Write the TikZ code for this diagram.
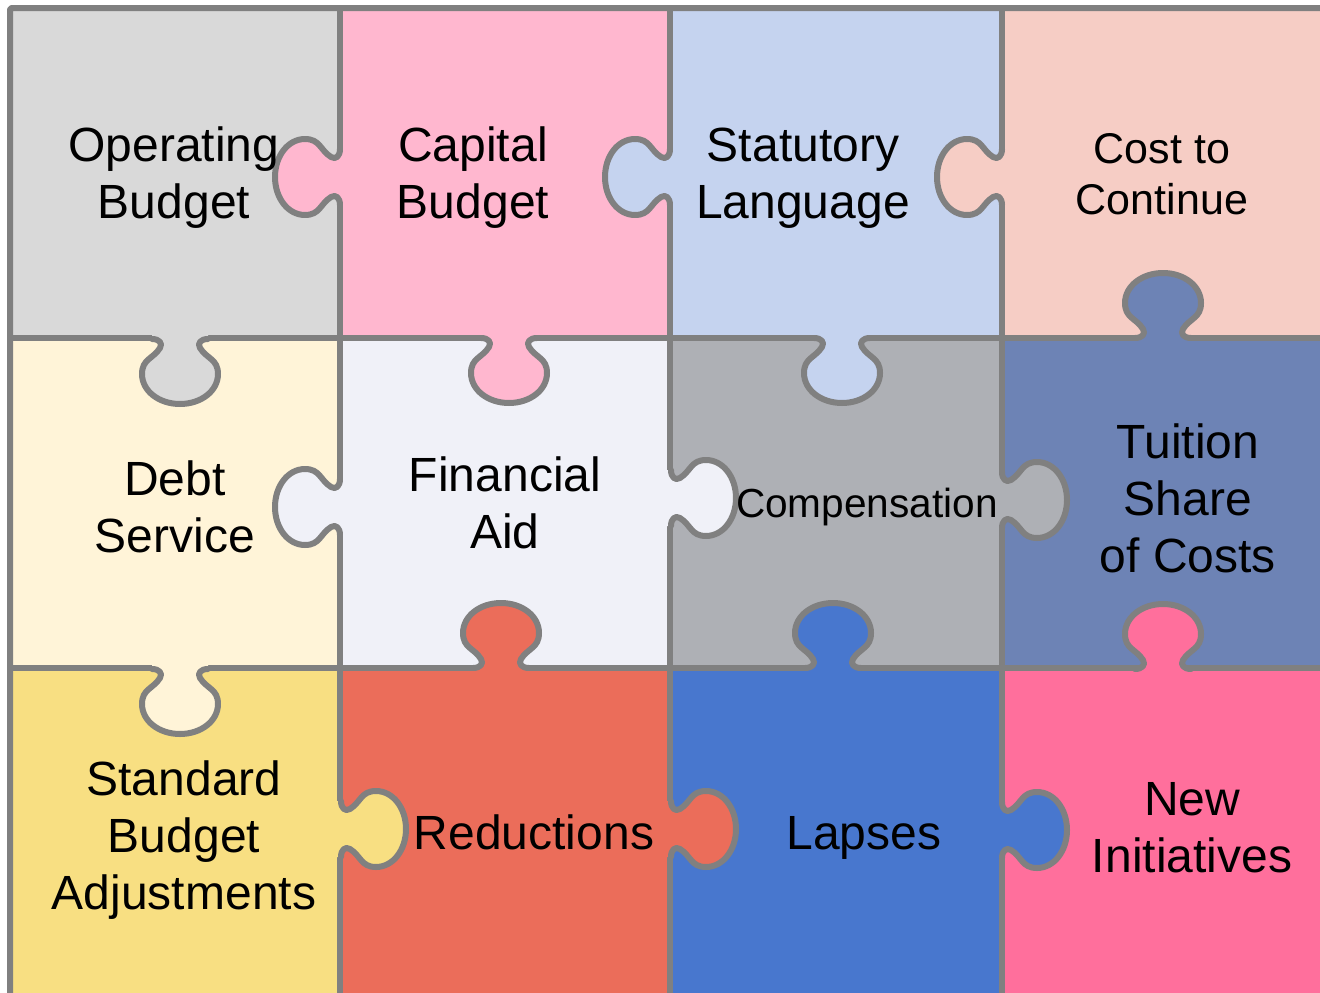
\documentclass[tikz,border=0pt]{standalone}
\usepackage{fontspec}
\setmainfont{Liberation Sans}
\definecolor{seamgray}{HTML}{808080}
\definecolor{opcol}{HTML}{D9D9D9}
\definecolor{capcol}{HTML}{FFB7CF}
\definecolor{statcol}{HTML}{C5D3EF}
\definecolor{costcol}{HTML}{F6CDC5}
\definecolor{debtcol}{HTML}{FFF4D8}
\definecolor{fincol}{HTML}{F0F1F8}
\definecolor{compcol}{HTML}{AEB0B5}
\definecolor{tuitcol}{HTML}{6D83B5}
\definecolor{stdcol}{HTML}{F8DF82}
\definecolor{redcol}{HTML}{EB6D5A}
\definecolor{lapcol}{HTML}{4877CE}
\definecolor{newcol}{HTML}{FF6F9C}

\tikzset{
  seam/.style={draw=seamgray,line width=6pt,line cap=round,line join=round},
  lbl/.style={font=\fontsize{48}{57}\selectfont,align=center,inner sep=0pt},
  pics/tab/.style={code={
    \fill[#1] (-28,-4) -- (-28,0) .. controls (-21,0) and (-17,4) .. (-20,9)
      .. controls (-27,20) and (-38,20) .. (-38,35)
      .. controls (-38,52) and (-21,65) .. (0,65)
      .. controls (21,65) and (38,52) .. (38,35)
      .. controls (38,20) and (27,20) .. (20,9)
      .. controls (17,4) and (21,0) .. (28,0) -- (28,-4) -- cycle;
    \draw[seam] (-28,0) .. controls (-21,0) and (-17,4) .. (-20,9)
      .. controls (-27,20) and (-38,20) .. (-38,35)
      .. controls (-38,52) and (-21,65) .. (0,65)
      .. controls (21,65) and (38,52) .. (38,35)
      .. controls (38,20) and (27,20) .. (20,9)
      .. controls (17,4) and (21,0) .. (28,0);
  }}
}

\begin{document}
\begin{tikzpicture}[x=1pt,y=-1pt]
\useasboundingbox (0,0) rectangle (1320,993);
\clip (0,0) rectangle (1320,993);

% pieces
\fill[opcol]   (10,8)    rectangle (340,338);
\fill[capcol]  (340,8)   rectangle (670,338);
\fill[statcol] (670,8)   rectangle (1002,338);
\fill[costcol] (1002,8)  rectangle (1334,338);
\fill[debtcol] (10,338)  rectangle (340,668);
\fill[fincol]  (340,338) rectangle (670,668);
\fill[compcol] (670,338) rectangle (1002,668);
\fill[tuitcol] (1002,338) rectangle (1334,668);
\fill[stdcol]  (10,668)  rectangle (340,1000);
\fill[redcol]  (340,668) rectangle (670,1000);
\fill[lapcol]  (670,668) rectangle (1002,1000);
\fill[newcol]  (1002,668) rectangle (1334,1000);

% seams
\foreach \x in {340,670,1002} \draw[seam] (\x,8) -- (\x,1000);
\foreach \y in {338,668} \draw[seam] (10,\y) -- (1334,\y);
\draw[seam,rounded corners=2] (10,8) rectangle (1334,1000);

% tabs
\pic[rotate=-90] at (340,177)  {tab=capcol};
\pic[rotate=-90] at (670,177)  {tab=statcol};
\pic[rotate=-90] at (1002,177) {tab=costcol};
\pic[rotate=-90] at (340,507)  {tab=fincol};
\pic[rotate=90]  at (671,498)  {tab=fincol};
\pic[rotate=90]  at (1002,500) {tab=compcol};
\pic[rotate=90]  at (341,829)  {tab=stdcol};
\pic[rotate=90]  at (671,829)  {tab=redcol};
\pic[rotate=90]  at (1002,830) {tab=lapcol};
\pic at (180,339)  {tab=opcol};
\pic at (509,338)  {tab=capcol};
\pic at (842,338)  {tab=statcol};
\pic[rotate=180] at (1163,338) {tab=tuitcol};
\pic at (180,669)  {tab=debtcol};
\pic[rotate=180] at (501,668)  {tab=redcol};
\pic[rotate=180] at (833,668)  {tab=lapcol};
\pic[rotate=180] at (1163,669) {tab=newcol};

% labels
\node[lbl] (opbud)  at (174,178)  {Operating\\Budget};
\node[lbl] (capbud) at (473,178)  {Capital\\Budget};
\node[lbl] (stat)   at (803,178)  {Statutory\\Language};
\node[lbl,font=\fontsize{43}{51}\selectfont] (cost) at (1162,174) {Cost to\\Continue};
\node[lbl] (debt)   at (175,507)  {Debt\\Service};
\node[lbl] (finaid) at (505,503)  {Financial\\Aid};
\node[lbl,font=\fontsize{40.6}{48}\selectfont,anchor=base] (comp) at (867,517) {Compensation};
\node[lbl] (tuit)   at (1188,498) {Tuition\\Share\\of Costs};
\node[lbl] (std)    at (184,840)  {Standard\\Budget\\Adjustments};
\node[lbl,anchor=base] (red) at (534,849) {Reductions};
\node[lbl,anchor=base] (lap) at (864,849) {Lapses};
\node[lbl] (newin)  at (1192,828) {New\\Initiatives};
\end{tikzpicture}
\end{document}
